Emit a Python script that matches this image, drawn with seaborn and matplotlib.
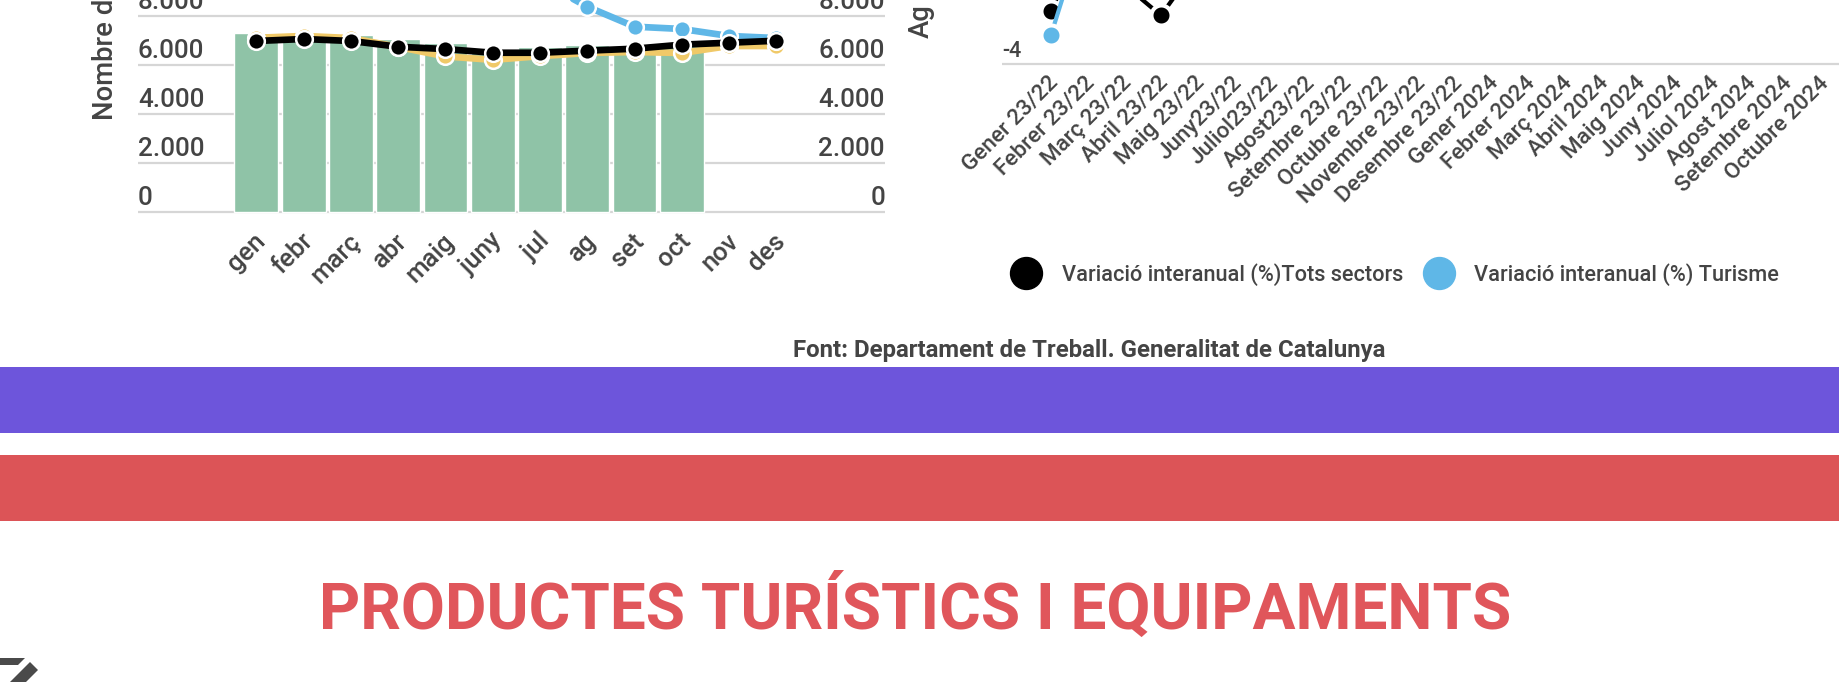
import numpy as np
import pandas as pd
import matplotlib
matplotlib.use("Agg")
import matplotlib.pyplot as plt
import matplotlib.transforms as mtrans
from matplotlib.lines import Line2D
from matplotlib.patches import Polygon, Rectangle
import seaborn as sns

# Dades
mesos = ["gen", "febr", "març", "abr", "maig", "juny", "jul", "ag", "set", "oct", "nov", "des"]
barres = [7300, 7300, 7225, 7060, 6900, 6650, 6735, 6815, 6695, 6855, np.nan, np.nan]
linia_groga = [7110, 7185, 7100, 6735, 6350, 6210, 6360, 6490, 6530, 6490, 6775, 6775]
linia_blava = [np.nan] * 6 + [9430, 8380, 7565, 7470, 7185, 7100]
linia_negra = [6980, 7060, 6980, 6745, 6650, 6500, 6500, 6585, 6665, 6830, 6910, 6990]
ticks_esq = [0, 2000, 4000, 6000, 8000]
ticks_esq_text = ["0", "2.000", "4.000", "6.000", "8.000"]

periodes = ["Gener 23/22", "Febrer 23/22", "Març 23/22", "Abril 23/22", "Maig 23/22", "Juny23/22",
            "Juliol23/22", "Agost23/22", "Setembre 23/22", "Octubre 23/22", "Novembre 23/22",
            "Desembre 23/22", "Gener 2024", "Febrer 2024", "Març 2024", "Abril 2024", "Maig 2024",
            "Juny 2024", "Juliol 2024", "Agost 2024", "Setembre 2024", "Octubre 2024"]
var_tots = [-2.69, -0.67, -2.02, -2.79, -1.52] + [np.nan] * 17
var_turisme = [-3.29, -0.37] + [np.nan] * 20

W, H = 1840, 682
GRIS = "#444444"
GRID = "#D6D6D6"
VERD = "#8FC3A7"
GROC = "#F0C968"
BLAU = "#5FB7E7"
VERMELL = "#DC5457"
LILA = "#6D55DB"

sns.set_theme(style="white")
plt.rcParams["font.family"] = ["Roboto", "DejaVu Sans"]

fig = plt.figure(figsize=(W / 100, H / 100), dpi=100)


def eixos(x0, x1, y0, y1):
    return fig.add_axes([x0 / W, 1 - y1 / H, (x1 - x0) / W, (y1 - y0) / H])


def etiqueta(ax, fx, valor, text, ha, pts, mida):
    ax.annotate(text, xy=(fx, valor), xycoords=("axes fraction", "data"), xytext=(0, pts),
                textcoords="offset points", ha=ha, va="baseline", color=GRIS, fontsize=mida,
                fontweight="medium", annotation_clip=False)


def gira_etiquetes(ax, mida, dx, dy):
    ax.tick_params(axis="x", length=0, pad=0)
    offset = mtrans.ScaledTranslation(dx / 100, dy / 100, fig.dpi_scale_trans)
    for lab in ax.get_xticklabels():
        lab.set_rotation(45)
        lab.set_ha("right")
        lab.set_va("top")
        lab.set_rotation_mode("anchor")
        lab.set_fontsize(mida)
        lab.set_fontweight("medium")
        lab.set_color(GRIS)
        lab.set_transform(lab.get_transform() + offset)


estil = dict(marker="o", markersize=12, markeredgecolor="white", markeredgewidth=1.8,
             linewidth=4.8, errorbar=None, sort=False, legend=False)

# Grafic esquerre
df = pd.DataFrame({"mes": mesos, "barres": barres, "groga": linia_groga,
                   "blava": linia_blava, "negra": linia_negra})
ax1 = eixos(138, 885, 0, 214)
sns.barplot(data=df, x="mes", y="barres", color=VERD, width=0.93, saturation=1, ax=ax1)
sns.lineplot(data=df, x="mes", y="groga", color=GROC, ax=ax1, **estil)
sns.lineplot(data=df, x="mes", y="blava", color=BLAU, ax=ax1, **estil)
sns.lineplot(data=df, x="mes", y="negra", color="black", ax=ax1, **estil)
ax1.set_xlim(-2.506, 13.3)
ax1.set_ylim(-82, 8653)
ax1.set_yticks(ticks_esq)
ax1.tick_params(axis="y", labelleft=False, length=0)
ax1.grid(axis="y", color=GRID, linewidth=1.6)
ax1.set_axisbelow(True)
ax1.set_xlabel("")
ax1.set_ylabel("Nombre d", fontsize=19.8, fontweight="medium", color=GRIS, ha="left", va="baseline")
ax1.yaxis.set_label_coords(113 / W, 1 - 119.5 / H, transform=fig.transFigure)
sns.despine(ax=ax1, left=True, right=True, top=True, bottom=True)
for v, t in zip(ticks_esq, ticks_esq_text):
    etiqueta(ax1, 0, v, t, "left", 4.8, 18.7)
    etiqueta(ax1, 1, v, t, "right", 4.8, 18.7)
gira_etiquetes(ax1, 18.5, -3, -15)

# Grafic dret
df2 = pd.DataFrame({"periode": periodes, "tots": var_tots, "turisme": var_turisme})
ax2 = eixos(1002.4, 1840, 0, 65.5)
estil2 = dict(estil, markersize=14.4, linewidth=3.0, markeredgewidth=2.9)
sns.lineplot(data=df2, x="periode", y="tots", color="black", ax=ax2, **estil2)
sns.lineplot(data=df2, x="periode", y="turisme", color=BLAU, ax=ax2, **estil2)
ax2.set_xlim(-1.32, 21.5)
ax2.set_ylim(-4 - 1.7 / 40, -4 + 63.8 / 40)
ax2.set_yticks([-4])
ax2.tick_params(axis="y", labelleft=False, length=0)
ax2.grid(axis="y", color=GRID, linewidth=1.6)
ax2.set_xlabel("")
ax2.set_ylabel("Ag", fontsize=19.8, fontweight="medium", color=GRIS, ha="left", va="baseline")
ax2.yaxis.set_label_coords(929 / W, 1 - 37.5 / H, transform=fig.transFigure)
sns.despine(ax=ax2, left=True, right=True, top=True, bottom=True)
etiqueta(ax2, 0, -4, "-4", "left", 4.8, 15.5)
ax2.set_xticks(range(len(periodes)))
ax2.set_xticklabels(periodes)
gira_etiquetes(ax2, 16.2, -3, -7)

# Llegenda
handles = [Line2D([], [], linestyle="none", marker="o", markersize=23, color="black"),
           Line2D([], [], linestyle="none", marker="o", markersize=23, color=BLAU)]
fig.legend(handles, ["Variació interanual (%)Tots sectors", "Variació interanual (%) Turisme"],
           loc="center left", bbox_to_anchor=(1010 / W, 1 - 274.5 / H), ncol=2, frameon=False,
           prop={"size": 15.7, "weight": "medium"}, labelcolor=GRIS, handlelength=1.5,
           handletextpad=0.87, columnspacing=0.9, borderpad=0, borderaxespad=0)

# Peu, bandes i titol
fig.text(1089 / W, 1 - 350 / H, "Font: Departament de Treball. Generalitat de Catalunya",
         ha="center", va="center", fontsize=17.3, fontweight="bold", color=GRIS)
fig.add_artist(Rectangle((0, 1 - 433 / H), 1, 66 / H, transform=fig.transFigure, color=LILA, lw=0))
fig.add_artist(Rectangle((0, 1 - 521 / H), 1, 66 / H, transform=fig.transFigure, color=VERMELL, lw=0))
fig.text(915 / W, 1 - 629 / H, "PRODUCTES TURÍSTICS I EQUIPAMENTS", ha="center", va="baseline",
         fontsize=45.97, fontweight="bold", color="#E0565B")

# Icona tallada a baix
for punts in ([(0, 658), (25, 658), (18, 665), (0, 665)], [(30, 662), (38, 670), (26, 682), (10, 682)]):
    fig.add_artist(Polygon([(x / W, 1 - y / H) for x, y in punts], transform=fig.transFigure,
                           color="#4A4A4A", lw=0))

fig.savefig("out.png", dpi=100)
